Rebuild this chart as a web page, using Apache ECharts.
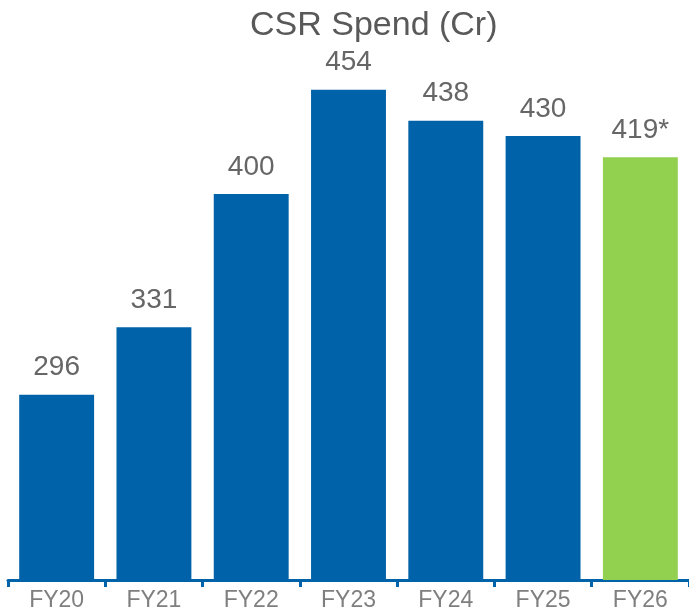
<!DOCTYPE html>
<html>
<head>
<meta charset="utf-8">
<script src="https://cdn.jsdelivr.net/npm/echarts@6/dist/echarts.min.js"></script>
<style>
  html, body { margin: 0; padding: 0; background: #fff; }
  #main { width: 689px; height: 614px; }
</style>
</head>
<body>
<div id="main"></div>
<script>
var years = ['FY20', 'FY21', 'FY22', 'FY23', 'FY24', 'FY25', 'FY26'];
var spend = [296, 331, 400, 454, 438, 430, 419];
var valueLabels = ['296', '331', '400', '454', '438', '430', '419*'];
var barColors = ['#0062a8', '#0062a8', '#0062a8', '#0062a8', '#0062a8', '#0062a8', '#92d050'];

var chart = echarts.init(document.getElementById('main'));

chart.setOption({
    animation: false,
    title: {
        text: 'CSR Spend (Cr)',
        left: 245,
        top: 4,
        textStyle: {
            fontFamily: 'Liberation Sans',
            fontSize: 34,
            fontWeight: 'normal',
            color: '#595959'
        }
    },
    grid: { left: 8, right: 0, top: 1, bottom: 34 },
    xAxis: {
        type: 'category',
        data: years,
        axisLine: { lineStyle: { color: '#0062a8', width: 3 } },
        axisTick: { show: true, length: 7, lineStyle: { color: '#0062a8', width: 3 } },
        axisLabel: {
            fontFamily: 'Liberation Sans',
            fontSize: 23,
            color: '#7f7f7f',
            margin: 9
        }
    },
    yAxis: {
        type: 'value',
        min: 200,
        max: 500,
        show: false,
        splitLine: { show: false }
    },
    series: [{
        type: 'bar',
        barWidth: '77%',
        data: spend.map(function (v, i) {
            return { value: v, itemStyle: { color: barColors[i] } };
        }),
        label: {
            show: true,
            position: 'top',
            distance: 13,
            fontFamily: 'Liberation Sans',
            fontSize: 28,
            color: '#666666',
            formatter: function (p) { return valueLabels[p.dataIndex]; }
        }
    }]
});
</script>
</body>
</html>
